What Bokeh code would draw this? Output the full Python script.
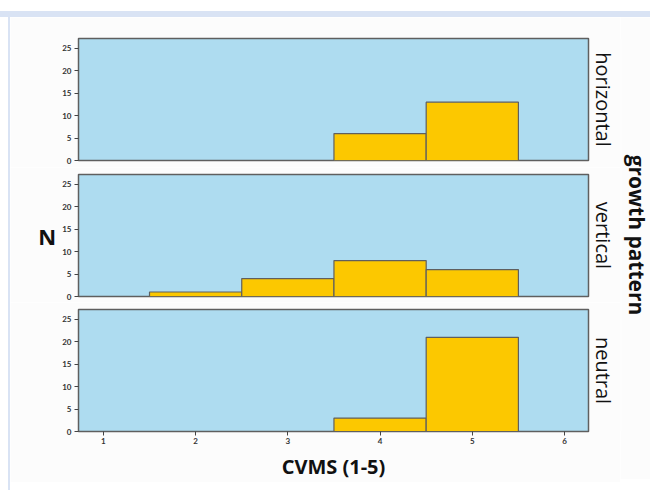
from bokeh.plotting import figure
from bokeh.models import Title, Div, FixedTicker, Range1d
from bokeh.layouts import column, row
from bokeh.embed import file_html
from bokeh.resources import INLINE

# ---- data ----
cvms_bins = [1, 2, 3, 4, 5]
horizontal_counts = [0, 0, 0, 6, 13]
vertical_counts = [0, 1, 4, 8, 6]
neutral_counts = [0, 0, 0, 3, 21]
panel_names = ["horizontal", "vertical", "neutral"]
x_ticks = [1, 2, 3, 4, 5, 6]
y_ticks = [0, 5, 10, 15, 20, 25]

PANEL_BG = "#aedcf0"
BAR = "#fcc800"
EDGE = "#5f5f5f"
PAGE_BG = "#fcfcfc"
DECOR = "#d9e3f4"
TICK_FONT = "Lato"


def make_panel(name, counts, top, bottom, show_x, show_n):
    p = figure(
        output_backend="svg", toolbar_location=None,
        frame_width=510, frame_height=122,
        min_border_left=68, min_border_right=31,
        min_border_top=top, min_border_bottom=bottom,
        x_range=Range1d(0.73, 6.26), y_range=Range1d(0, 27.2),
        background_fill_color=PANEL_BG, border_fill_color=PAGE_BG,
        x_axis_location="below" if show_x else None,
    )
    p.grid.visible = False
    p.outline_line_color = EDGE
    p.outline_line_width = 1.5

    xs = [b for b, c in zip(cvms_bins, counts) if c > 0]
    tops = [c for c in counts if c > 0]
    p.vbar(x=xs, top=tops, bottom=0, width=1.0, fill_color=BAR,
           line_color=EDGE, line_width=1.2)

    ya = p.yaxis[0]
    ya.ticker = FixedTicker(ticks=y_ticks)
    ya.minor_tick_line_color = None
    ya.major_tick_in = 0
    ya.major_tick_out = 4
    ya.major_tick_line_color = "#444444"
    ya.axis_line_color = EDGE
    ya.major_label_text_font = TICK_FONT
    ya.major_label_text_font_size = "8px"
    ya.major_label_text_font_style = "bold"
    ya.major_label_text_color = "#333333"
    ya.major_label_standoff = 3
    if show_n:
        ya.axis_label = "N"
        ya.axis_label_orientation = "horizontal"
        ya.axis_label_text_font = "Open Sans"
        ya.axis_label_text_font_size = "22px"
        ya.axis_label_text_font_style = "bold"
        ya.axis_label_text_color = "#111111"
        ya.axis_label_standoff = 3

    if show_x:
        xa = p.xaxis[0]
        xa.ticker = FixedTicker(ticks=x_ticks)
        xa.minor_tick_line_color = None
        xa.major_tick_in = 0
        xa.major_tick_out = 4
        xa.major_tick_line_color = "#444444"
        xa.axis_line_color = EDGE
        xa.major_label_text_font = TICK_FONT
        xa.major_label_text_font_size = "8px"
        xa.major_label_text_font_style = "bold"
        xa.major_label_text_color = "#333333"
        xa.major_label_standoff = 2
        xa.axis_label = "CVMS (1-5)"
        xa.axis_label_text_font = "Open Sans"
        xa.axis_label_text_font_size = "20px"
        xa.axis_label_text_font_style = "bold"
        xa.axis_label_text_color = "#111111"
        xa.axis_label_standoff = 6

    t = Title(text=name, align="center", text_font="Open Sans",
              text_font_size="20px", text_font_style="normal",
              text_color="#111111", standoff=3)
    p.add_layout(t, "right")
    return p


p1 = make_panel(panel_names[0], horizontal_counts, 21, 7, False, False)
p2 = make_panel(panel_names[1], vertical_counts, 7, 6, False, True)
p3 = make_panel(panel_names[2], neutral_counts, 7, 48, True, False)

# strip on the right carrying the shared facet title
g = figure(
    output_backend="svg", toolbar_location=None,
    frame_width=1, frame_height=393,
    min_border_left=0, min_border_right=0,
    min_border_top=21, min_border_bottom=48,
    x_range=Range1d(0, 1), y_range=Range1d(0, 1),
    x_axis_location=None, y_axis_location=None,
    background_fill_color=PAGE_BG, border_fill_color=PAGE_BG,
)
g.grid.visible = False
g.outline_line_color = None
g.add_layout(Title(text="growth pattern", align="center", text_font="Open Sans",
                   text_font_size="21px", text_font_style="bold",
                   text_color="#111111", standoff=2), "right")

band = Div(text="", width=650, height=6, margin=(11, 0, 0, 0),
           styles={"background-color": DECOR})
left_line = Div(text="", width=2, height=473, margin=(0, 0, 0, 8),
                styles={"background-color": DECOR})

layout = column(band, row(left_line, column(p1, p2, p3, spacing=0), g, spacing=0),
                spacing=0)

open("out.html", "w").write(file_html(layout, INLINE))
